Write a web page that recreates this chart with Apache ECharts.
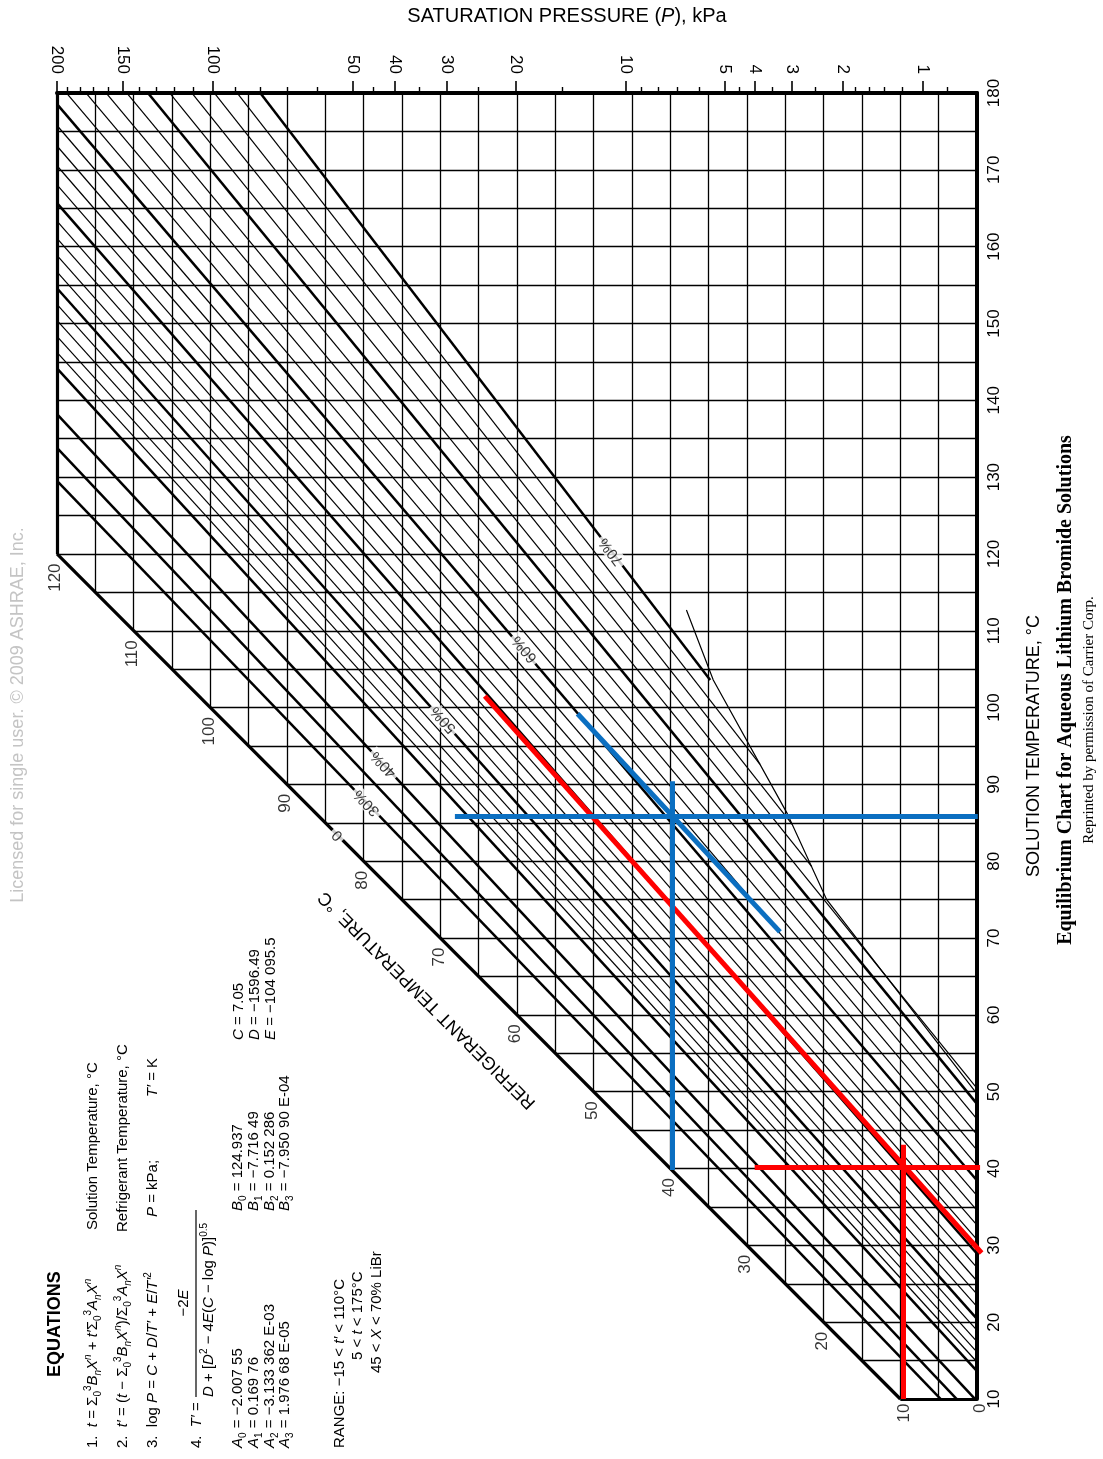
<!DOCTYPE html>
<html>
<head>
<meta charset="utf-8">
<script src="https://cdn.jsdelivr.net/npm/echarts@6.0.0/dist/echarts.min.js"></script>
<style>
html,body{margin:0;padding:0;background:#fff;}
#chart{width:1103px;height:1459px;}
</style>
</head>
<body>
<div id="chart"></div>
<script>
// ================= DATA =================
const solTicks = [10,20,30,40,50,60,70,80,90,100,110,120,130,140,150,160,170,180];
const gridSolTemps = [10,15,20,25,30,35,40,45,50,55,60,65,70,75,80,85,90,95,100,105,110,115,120,125,130,135,140,145,150,155,160,165,170,175,180];
const gridRefTemps = [0,5,10,15,20,25,30,35,40,45,50,55,60,65,70,75,80,85,90,95,100,105,110,115,120];
const pressMajor = [200,150,100,50,40,30,20,10,5,4,3,2,1];
const pressMinor = [190,180,170,160,140,130,120,110,90,80,70,60,45,35,25,15,9,8,7,6,4.5,3.5,2.5,1.8,1.6,1.4,1.2,0.8];
const refDiagLabels = [120,110,100,90,80,70,60,50,40,30,20];
const refBottomLabels = [10,0];
// Concentration lines (% LiBr): solution temp at refrigerant temp 120 °C, and lower end point
const concPct    = [0, 30, 35, 40, 45, 46, 47, 48, 49, 50, 51, 52, 53, 54, 55, 56, 57, 58, 59, 60, 61, 62, 63, 64, 65, 66, 67, 68, 69, 70];
const concTAt120 = [120, 129.5, 133.8, 138.2, 144.16, 146.25, 148.33, 150.41, 152.49, 154.59, 156.71, 158.87, 161.08, 163.33, 165.66, 168.05, 170.53, 173.10, 175.77, 178.55, 181.45, 184.48, 187.65, 190.97, 194.44, 198.09, 201.91, 205.92, 210.12, 214.53];
const concEndRef = [10, 0, 0, 0, 0, 0, 0, 0, 0, 0, 0, 0, 0, 0, 0, 0, 0, 0, 0, 0, 0, 0, 0, 0, 0, 0, 21.55, 24.1, 28.3, 34.8];
const concEndT   = [10, 5.08, 7.2, 9.72, 13.62, 14.82, 16.11, 17.48, 18.93, 20.44, 22.02, 23.66, 25.36, 27.11, 28.91, 30.75, 32.63, 34.54, 36.48, 38.44, 40.42, 42.41, 44.41, 46.42, 48.42, 50.42, 79.3, 84.8, 92.6, 103.6];
// Crystallization line (refrigerant temp, solution temp)
const crystRef = [37.9, 34.4, 24.8, 19.6, 0.3];
const crystT   = [112.7, 103.6, 86.3, 75.0, 50.1];
// Concentration line labels
const concLabelText = ['0', '30%', '40%', '50%', '60%', '70%'];
const concLabelPct  = [0, 30, 40, 50, 60, 70];
const concLabelRef  = [83.4, 79.6, 77.4, 69.6, 59.0, 47.7];
const concLabelT    = [83.4, 87.6, 92.6, 98.4, 107.6, 120.3];
// Worked-example overlay lines [[ref, sol], [ref, sol]]
const redLines = [
  [[64.2, 101.5], [-0.6, 29.0]],
  [[29.0, 40.2], [-0.4, 40.2]],
  [[9.6, 43.1], [9.6, 10.0]]
];
const blueLines = [
  [[39.8, 90.4], [39.8, 39.8]],
  [[68.1, 85.9], [-0.1, 85.9]],
  [[52.1, 99.2], [25.7, 70.8]]
];

// ================= HELPERS =================
const FONT = "'Liberation Sans', Arial, Helvetica, sans-serif";
const SERIF = "'Liberation Serif', 'Times New Roman', serif";
function satTemp(pk) {
  const lg = Math.log10(pk * 7.50062);
  const T = pk < 101.325 ? 1730.63 / (8.07131 - lg) - 233.426 : 1810.94 / (8.14019 - lg) - 244.485;
  return Math.min(120, Math.max(0, T));
}
const majorRef = pressMajor.map(satTemp);
const minorRef = pressMinor.map(satTemp);
const pLabelMap = {};
majorRef.forEach((r, i) => { pLabelMap[r.toFixed(4)] = String(pressMajor[i]); });

const GRID = {left: 57, right: 126, top: 93, bottom: 60};
const plotW = 1103 - GRID.left - GRID.right, plotH = 1459 - GRID.top - GRID.bottom;
const sx = plotW / 120, sy = plotH / 170;

const gridSegs = [];
gridSolTemps.forEach(t => gridSegs.push({coords: [[Math.min(t, 120), t], [0, t]]}));
gridRefTemps.forEach(r => gridSegs.push({coords: [[r, Math.max(r, 10)], [r, 180]]}));

const thinSegs = [], thickSegs = [];
const slopeOf = {};
concPct.forEach((c, i) => {
  const seg = {coords: [[120, concTAt120[i]], [concEndRef[i], concEndT[i]]]};
  slopeOf[c] = (concTAt120[i] - concEndT[i]) / (120 - concEndRef[i]);
  if (c === 0) return;
  (c % 5 === 0 ? thickSegs : thinSegs).push(seg);
});
const frameSegs = [
  {coords: [[120, 120], [10, 10]]},
  {coords: [[120, 120], [120, 180]]},
  {coords: [[10, 10], [0, 10]]}
];
const crystSeg = [{coords: crystRef.map((r, i) => [r, crystT[i]])}];

const concLabelData = concLabelText.map((txt, i) => {
  const A = slopeOf[concLabelPct[i]];
  const ang = Math.atan(A * sy / sx) * 180 / Math.PI;
  return {value: [concLabelRef[i], concLabelT[i]], name: txt, label: {rotate: 180 - ang}};
});

function linesSeries(data, width, color, z, clip, polyline) {
  return {type: 'lines', coordinateSystem: 'cartesian2d', xAxisIndex: 0, yAxisIndex: 0,
    polyline: !!polyline, silent: true, clip: clip, z: z, animation: false,
    lineStyle: {color: color, width: width, opacity: 1, cap: 'butt'},
    effect: {show: false}, data: data};
}

// ================= OPTION =================
const chart = echarts.init(document.getElementById('chart'));
const option = {
  animation: false,
  backgroundColor: '#fff',
  grid: {left: GRID.left, right: GRID.right, top: GRID.top, bottom: GRID.bottom, containLabel: false},
  xAxis: [
    {type: 'value', min: 0, max: 120, inverse: true, show: false},
    {type: 'value', min: 0, max: 120, inverse: true, position: 'top',
      axisLine: {show: true, lineStyle: {color: '#000', width: 4}},
      axisTick: {show: true, length: 12, lineStyle: {color: '#000', width: 1.6}, customValues: majorRef},
      axisLabel: {show: true, customValues: majorRef, rotate: 90, margin: 19, fontSize: 17, color: '#000', fontFamily: FONT,
        formatter: v => pLabelMap[Number(v).toFixed(4)] || ''},
      splitLine: {show: false}},
    {type: 'value', min: 0, max: 120, inverse: true, position: 'top',
      axisLine: {show: false},
      axisTick: {show: true, length: 6, lineStyle: {color: '#000', width: 1.4}, customValues: minorRef},
      axisLabel: {show: false}, splitLine: {show: false}}
  ],
  yAxis: [{type: 'value', min: 10, max: 180, interval: 10, position: 'right',
    axisLine: {show: true, lineStyle: {color: '#000', width: 4}},
    axisTick: {show: false},
    axisLabel: {show: true, rotate: 90, margin: 9, fontSize: 17, color: '#000', fontFamily: FONT},
    splitLine: {show: false},
    name: 'SOLUTION TEMPERATURE, °C', nameLocation: 'middle', nameGap: 48, nameRotate: 90,
    nameTextStyle: {fontSize: 18, color: '#000', fontFamily: FONT}}],
  series: [
    linesSeries(gridSegs, 1.3, '#000', 1, true),
    linesSeries(thinSegs, 1.2, '#000', 2, true),
    linesSeries(thickSegs, 2.5, '#000', 3, true),
    linesSeries(crystSeg, 1.2, '#000', 3, true, true),
    linesSeries(frameSegs, 3.2, '#000', 4, false),
    {type: 'scatter', xAxisIndex: 0, yAxisIndex: 0, symbolSize: 1, itemStyle: {color: 'rgba(0,0,0,0)'}, z: 6, silent: true,
      data: refDiagLabels.map(r => [r, r]),
      label: {show: true, position: [-1, 10], rotate: 90, align: 'right', verticalAlign: 'middle',
        fontSize: 17, color: '#000', fontFamily: FONT, formatter: p => String(p.value[0])}},
    {type: 'scatter', xAxisIndex: 0, yAxisIndex: 0, symbolSize: 1, itemStyle: {color: 'rgba(0,0,0,0)'}, z: 6, silent: true,
      data: refBottomLabels.map(r => [r, 10]),
      label: {show: true, position: [4, 5], rotate: 90, align: 'right', verticalAlign: 'middle',
        fontSize: 17, color: '#000', fontFamily: FONT, formatter: p => String(p.value[0])}},
    {type: 'scatter', xAxisIndex: 0, yAxisIndex: 0, symbolSize: 1, itemStyle: {color: 'rgba(0,0,0,0)'}, z: 7, silent: true,
      data: concLabelData,
      label: {show: true, position: 'inside', fontSize: 15, color: '#000', fontFamily: FONT,
        backgroundColor: '#fff', padding: [0, 3], formatter: p => p.name}},
    linesSeries(redLines.map(c => ({coords: c})), 5, '#ff0000', 8, false),
    linesSeries(blueLines.map(c => ({coords: c})), 5, '#0b6fc1', 8, false)
  ],
  graphic: []
};

const rich = {
  n: {fontSize: 15, fontFamily: FONT, color: '#000', lineHeight: 20},
  i: {fontSize: 15, fontFamily: FONT, fontStyle: 'italic', color: '#000', lineHeight: 20},
  s: {fontSize: 10, fontFamily: FONT, color: '#000', verticalAlign: 'bottom', lineHeight: 10},
  si: {fontSize: 10, fontFamily: FONT, fontStyle: 'italic', color: '#000', verticalAlign: 'bottom', lineHeight: 10},
  p: {fontSize: 10, fontFamily: FONT, color: '#000', verticalAlign: 'top', lineHeight: 10},
  pi: {fontSize: 10, fontFamily: FONT, fontStyle: 'italic', color: '#000', verticalAlign: 'top', lineHeight: 10}
};
function T(u, v, text, align) {
  const a = align || 'left';
  return {type: 'text', x: u, y: v, silent: true,
    style: {text: text, rich: rich, fontSize: 15, fontFamily: FONT, fill: '#000',
      align: a, verticalAlign: 'middle', textAlign: a, textVerticalAlign: 'middle'}};
}
const eqChildren = [
  {type: 'text', x: 82, y: 55, silent: true, style: {text: 'EQUATIONS', fontSize: 18, fontWeight: 'bold', fontFamily: FONT, fill: '#000', align: 'left', verticalAlign: 'middle'}},
  T(11, 93, '{n|1.  }{i|t}{n| = Σ}{s|0}{p|3}{i|B}{si|n}{i|X}{pi|n}{n| + }{i|t′}{n|Σ}{s|0}{p|3}{i|A}{si|n}{i|X}{pi|n}'),
  T(229, 93, '{n|Solution Temperature, °C}'),
  T(11, 123, '{n|2.  }{i|t′}{n| = (}{i|t}{n| − Σ}{s|0}{p|3}{i|B}{si|n}{i|X}{pi|n}{n|)/Σ}{s|0}{p|3}{i|A}{si|n}{i|X}{pi|n}'),
  T(227, 123, '{n|Refrigerant Temperature, °C}'),
  T(11, 153, '{n|3.  log }{i|P}{n| = }{i|C}{n| + }{i|D}{n|/}{i|T′}{n| + }{i|E}{n|/}{i|T′}{p|2}'),
  T(242, 153, '{i|P}{n| = kPa;}'),
  T(362, 153, '{i|T′}{n| = K}'),
  T(11, 197, '{n|4.  }{i|T′}{n| =}'),
  T(156, 184, '{n|−2}{i|E}', 'center'),
  {type: 'line', silent: true, shape: {x1: 62, y1: 196, x2: 249, y2: 196}, style: {stroke: '#000', lineWidth: 1.2}},
  T(62, 209, '{i|D}{n| + [}{i|D}{p|2}{n| − 4}{i|E}{n|(}{i|C}{n| − log }{i|P}{n|)]}{p|0.5}'),
  T(11, 238, '{i|A}{s|0}{n| = −2.007 55}'),
  T(11, 254, '{i|A}{s|1}{n| = 0.169 76}'),
  T(11, 270, '{i|A}{s|2}{n| = −3.133 362 E-03}'),
  T(11, 285, '{i|A}{s|3}{n| = 1.976 68 E-05}'),
  T(248, 238, '{i|B}{s|0}{n| = 124.937}'),
  T(248, 254, '{i|B}{s|1}{n| = −7.716 49}'),
  T(248, 270, '{i|B}{s|2}{n| = 0.152 286}'),
  T(248, 285, '{i|B}{s|3}{n| = −7.950 90 E-04}'),
  T(419, 239, '{i|C}{n| = 7.05}'),
  T(419, 255, '{i|D}{n| = −1596.49}'),
  T(419, 271, '{i|E}{n| = −104 095.5}'),
  T(11, 340, '{n|RANGE: −15 < }{i|t′}{n| < 110°C}'),
  T(99, 358, '{n|5 < }{i|t}{n| < 175°C}'),
  T(86, 377, '{n|45 < }{i|X}{n| < 70% LiBr}')
];
option.graphic = [
  {type: 'text', x: 567, y: 16, silent: true,
    style: {text: '{n|SATURATION PRESSURE (}{i|P}{n|), kPa}', rich: {
      n: {fontSize: 20, fontFamily: FONT, color: '#000'}, i: {fontSize: 20, fontFamily: FONT, fontStyle: 'italic', color: '#000'}},
      align: 'center', verticalAlign: 'middle'}},
  {type: 'text', x: 1066, y: 690, rotation: Math.PI / 2, silent: true,
    style: {text: 'Equilibrium Chart for Aqueous Lithium Bromide Solutions', fontSize: 20, fontWeight: 'bold', fontFamily: SERIF, fill: '#000', align: 'center', verticalAlign: 'middle'}},
  {type: 'text', x: 1089, y: 720, rotation: Math.PI / 2, silent: true,
    style: {text: 'Reprinted by permission of Carrier Corp.', fontSize: 15, fontFamily: SERIF, fill: '#000', align: 'center', verticalAlign: 'middle'}},
  {type: 'text', x: 18, y: 715, rotation: Math.PI / 2, silent: true,
    style: {text: 'Licensed for single user. © 2009 ASHRAE, Inc.', fontSize: 18, fontFamily: FONT, fill: '#c4c4c4', align: 'center', verticalAlign: 'middle'}},
  {type: 'text', x: 427, y: 1000, rotation: Math.PI * 3 / 4, silent: true,
    style: {text: 'REFRIGERANT TEMPERATURE, °C', fontSize: 18, fontFamily: FONT, fill: '#000', align: 'center', verticalAlign: 'middle'}},
  {type: 'group', x: 0, y: 1459, rotation: Math.PI / 2, silent: true, children: eqChildren}
];
chart.setOption(option);
</script>
</body>
</html>
